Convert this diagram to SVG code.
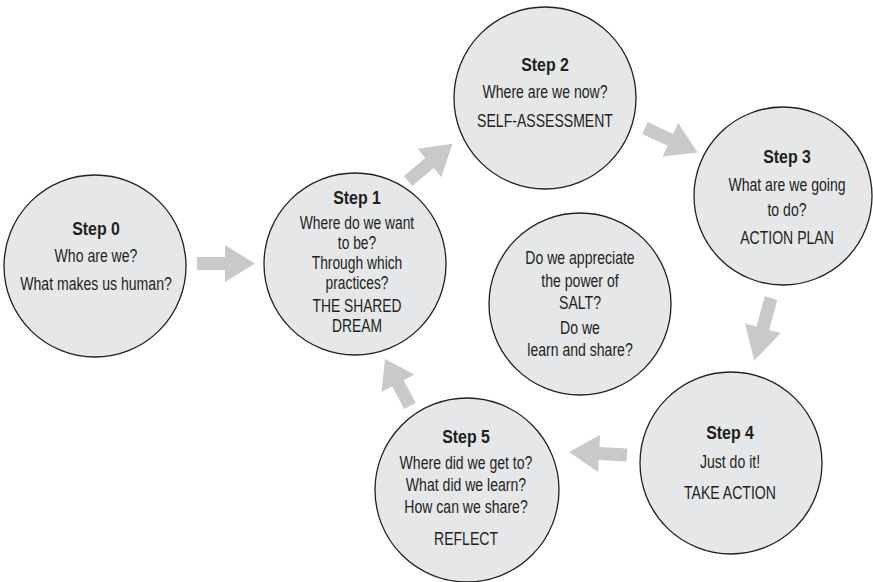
<svg xmlns="http://www.w3.org/2000/svg" width="873" height="582" viewBox="0 0 873 582">
  <defs>
    <style>
      .node circle { fill: #e6e7e8; stroke: #231f20; stroke-width: 1.3; }
      .node text { font-family: "Liberation Sans", Arial, sans-serif; font-size: 18.5px; fill: #231f20; text-anchor: middle; }
      .node text.title { font-weight: bold; }
      .node text.tight { font-size: 17.5px; }
      .arrow { fill: #c8c9cb; }
    </style>
    <path id="arr" d="M0,-6.5 L28,-6.5 L28,-18.5 L58,0 L28,18.5 L28,6.5 L0,6.5 Z"/>
  </defs>
  <rect width="873" height="582" fill="#ffffff"/>

  <g id="connectors">
    <use href="#arr" class="arrow" transform="translate(197,263.5)"/>
    <use href="#arr" class="arrow" transform="translate(408,181) rotate(-40)"/>
    <use href="#arr" class="arrow" transform="translate(645,128) rotate(25)"/>
    <use href="#arr" class="arrow" transform="translate(771,298) rotate(105) scale(1.12,1)"/>
    <use href="#arr" class="arrow" transform="translate(627,455) rotate(183)"/>
    <use href="#arr" class="arrow" transform="translate(410,406) rotate(-118) scale(0.92,1)"/>
  </g>

  <g id="step0" class="node">
    <circle cx="95" cy="266" r="91"/>
    <text class="title" transform="translate(96,0) scale(0.86,1)" x="0" y="235">Step 0</text>
    <g transform="translate(96,0) scale(0.76,1)">
      <text x="0" y="262">Who are we?</text>
      <text x="0" y="290">What makes us human?</text>
    </g>
  </g>

  <g id="step1" class="node">
    <circle cx="355" cy="264" r="91"/>
    <text class="title" transform="translate(357,0) scale(0.86,1)" x="0" y="204">Step 1</text>
    <g transform="translate(357,0) scale(0.79,1)">
      <text class="tight" x="0" y="229">Where do we want</text>
      <text class="tight" x="0" y="249">to be?</text>
      <text class="tight" x="0" y="269">Through which</text>
      <text class="tight" x="0" y="289">practices?</text>
      <text class="tight" x="0" y="312">THE SHARED</text>
      <text class="tight" x="0" y="332">DREAM</text>
    </g>
  </g>

  <g id="step2" class="node">
    <circle cx="545" cy="98" r="91"/>
    <text class="title" transform="translate(545,0) scale(0.86,1)" x="0" y="71">Step 2</text>
    <g transform="translate(545,0) scale(0.76,1)">
      <text x="0" y="98">Where are we now?</text>
      <text x="0" y="127">SELF-ASSESSMENT</text>
    </g>
  </g>

  <g id="step3" class="node">
    <circle cx="783" cy="196" r="89"/>
    <text class="title" transform="translate(787,0) scale(0.86,1)" x="0" y="163">Step 3</text>
    <g transform="translate(787,0) scale(0.76,1)">
      <text x="0" y="191">What are we going</text>
      <text x="0" y="216">to do?</text>
      <text x="0" y="244">ACTION PLAN</text>
    </g>
  </g>

  <g id="salt" class="node">
    <circle cx="580" cy="304" r="91"/>
    <g transform="translate(580,0) scale(0.76,1)">
      <text x="0" y="264">Do we appreciate</text>
      <text x="0" y="287">the power of</text>
      <text x="0" y="309">SALT?</text>
      <text x="0" y="334">Do we</text>
      <text x="0" y="356">learn and share?</text>
    </g>
  </g>

  <g id="step4" class="node">
    <circle cx="731" cy="463" r="91"/>
    <text class="title" transform="translate(730,0) scale(0.86,1)" x="0" y="439">Step 4</text>
    <g transform="translate(730,0) scale(0.76,1)">
      <text x="0" y="468">Just do it!</text>
      <text x="0" y="499">TAKE ACTION</text>
    </g>
  </g>

  <g id="step5" class="node">
    <circle cx="467" cy="490" r="92"/>
    <text class="title" transform="translate(466,0) scale(0.86,1)" x="0" y="443">Step 5</text>
    <g transform="translate(466,0) scale(0.76,1)">
      <text x="0" y="469">Where did we get to?</text>
      <text x="0" y="491">What did we learn?</text>
      <text x="0" y="513">How can we share?</text>
      <text x="0" y="545">REFLECT</text>
    </g>
  </g>
</svg>
